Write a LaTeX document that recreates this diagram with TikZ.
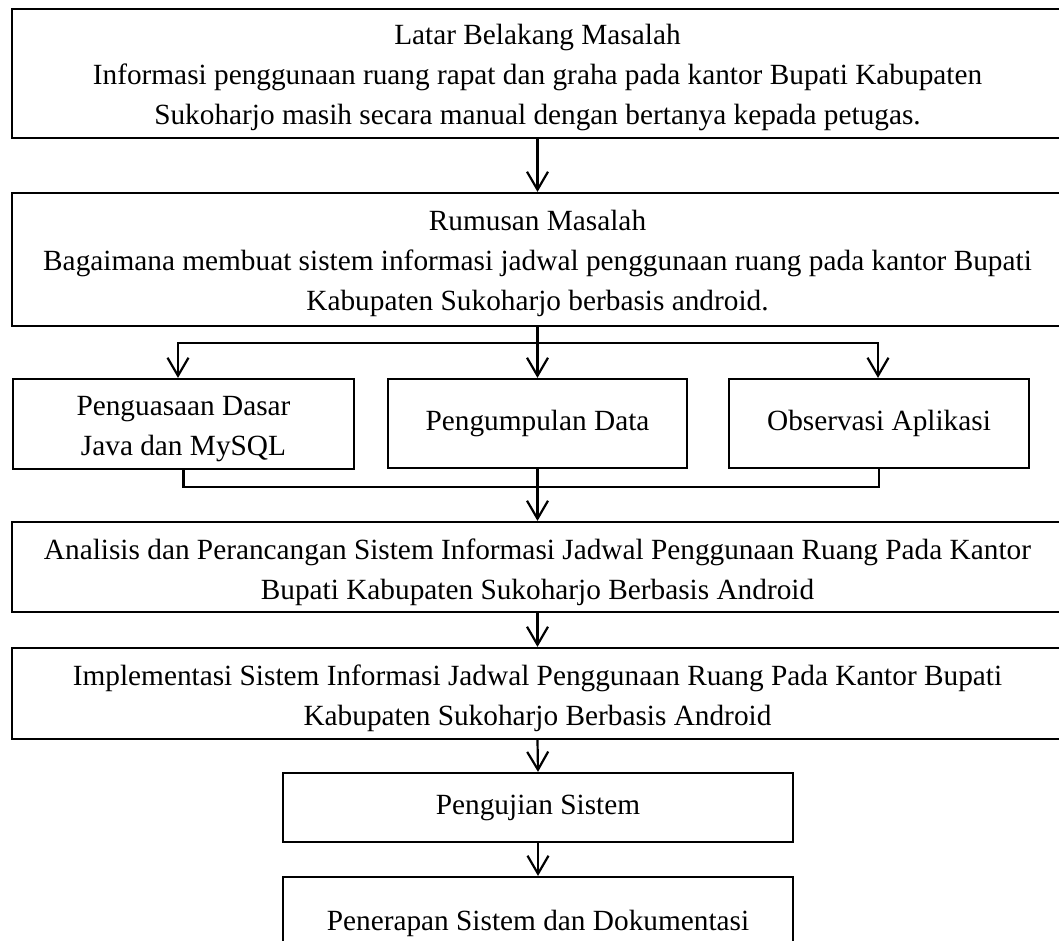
\documentclass[tikz,border=0pt]{standalone}
\usepackage{fontspec}
\setmainfont{Liberation Serif}
\usetikzlibrary{arrows.meta}
\begin{document}
\begin{tikzpicture}[x=1pt,y=-1pt,
  box/.style={draw, line width=2.2pt, inner sep=0pt},
  txt/.style={inner sep=0pt, align=center, font=\fontsize{29.3}{40}\selectfont},
  arr/.style={line width=2.2pt, -{Straight Barb[length=18pt,width=21pt,line width=2.2pt]}},
  ln/.style={line width=2.2pt}]
\useasboundingbox (0,0) rectangle (1059,940);
\clip (0,0) rectangle (1059,940);
% boxes
\node[box, minimum width=1051pt, minimum height=129pt] (b1) at (537.5,73.5) {};
\node[box, minimum width=1051pt, minimum height=133pt] (b2) at (537.5,259.5) {};
\node[box, minimum width=341pt, minimum height=90pt] (b3l) at (183.5,424) {};
\node[box, minimum width=299pt, minimum height=89pt] (b3m) at (537.5,423.5) {};
\node[box, minimum width=300pt, minimum height=89pt] (b3r) at (879,423.5) {};
\node[box, minimum width=1051pt, minimum height=90pt] (b4) at (537.5,567) {};
\node[box, minimum width=1051pt, minimum height=91pt] (b5) at (537.5,693.5) {};
\node[box, minimum width=510pt, minimum height=69pt] (b6) at (538,807.5) {};
\node[box, minimum width=510pt, minimum height=92pt] (b7) at (538,923) {};
% texts
\node[txt] (t1) at ([yshift=-4pt]b1.center)
  {Latar Belakang Masalah\\Informasi penggunaan ruang rapat dan graha pada kantor Bupati Kabupaten\\Sukoharjo masih secara manual dengan bertanya kepada petugas.};
\node[txt] (t2) at ([yshift=-4pt]b2.center)
  {Rumusan Masalah\\Bagaimana membuat sistem informasi jadwal penggunaan ruang pada kantor Bupati\\Kabupaten Sukoharjo berbasis android.};
\node[txt] (t3l) at ([yshift=-5pt]b3l.center) {Penguasaan Dasar\\Java dan MySQL};
\node[txt] (t3m) at (b3m.center) {Pengumpulan Data};
\node[txt] (t3r) at (b3r.center) {Observasi Aplikasi};
\node[txt] (t4) at ([yshift=-5pt]b4.center)
  {Analisis dan Perancangan Sistem Informasi Jadwal Penggunaan Ruang Pada Kantor\\Bupati Kabupaten Sukoharjo Berbasis Android};
\node[txt] (t5) at ([yshift=-5pt]b5.center)
  {Implementasi Sistem Informasi Jadwal Penggunaan Ruang Pada Kantor Bupati\\Kabupaten Sukoharjo Berbasis Android};
\node[txt] (t6) at (b6.center) {Pengujian Sistem};
\node[txt] (t7) at (b7.center) {Penerapan Sistem dan Dokumentasi};
% connectors
\coordinate (sl) at (178,343);
\coordinate (sr) at (878,343);
\coordinate (jl) at (183,487);
\coordinate (jr) at (878,487);
\draw[arr] (b1.south) -- (b2.north);
\draw[arr] (b2.south) -- (b3m.north);
\draw[arr] (b2.south |- sl) -- (sl) -- (sl |- b3l.north);
\draw[arr] (b2.south |- sr) -- (sr) -- (sr |- b3r.north);
\draw[ln] (b3l.south) -- (b3l.south |- jl) -- (b3r.south |- jr) -- (b3r.south);
\draw[arr] (b3m.south) -- (b4.north);
\draw[arr] (b4.south) -- (b5.north);
\draw[arr] (b5.south) -- (b6.north);
\draw[arr] (b6.south) -- (b7.north);
\end{tikzpicture}
\end{document}
